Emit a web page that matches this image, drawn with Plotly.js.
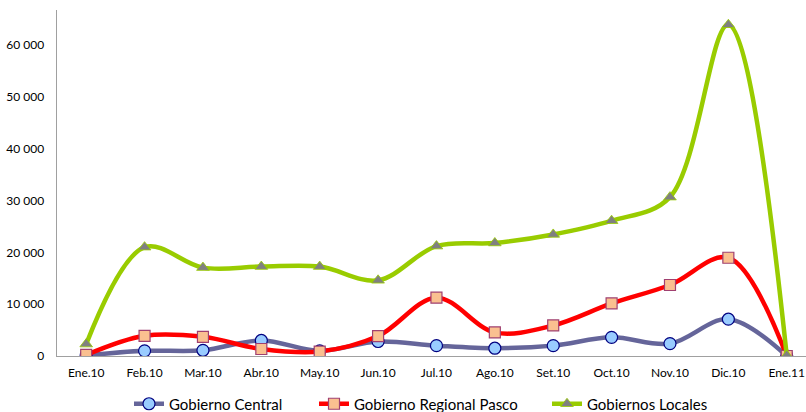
<!DOCTYPE html>
<html>
<head>
<meta charset="utf-8">
<script src="https://cdn.plot.ly/plotly-3.0.1.min.js"></script>
<style>html,body{margin:0;padding:0;background:#fff;}#chart{width:806px;height:412px;}</style>
</head>
<body>
<div id="chart"></div>
<script>
const months = ["Ene.10","Feb.10","Mar.10","Abr.10","May.10","Jun.10","Jul.10","Ago.10","Set.10","Oct.10","Nov.10","Dic.10","Ene.11"];
const gobiernoCentral = [100, 1000, 1100, 3000, 1000, 2800, 2000, 1500, 2000, 3600, 2400, 7100, 0];
const gobiernoRegionalPasco = [200, 3900, 3700, 1350, 850, 3850, 11250, 4550, 5900, 10150, 13700, 18950, 0];
const gobiernosLocales = [2300, 21000, 17050, 17250, 17250, 14600, 21200, 21800, 23450, 26100, 30650, 63900, 100];

const FONT = "Lato, 'Open Sans', sans-serif";

const traces = [
  {
    x: months, y: gobiernoCentral, name: "Gobierno Central", type: "scatter", mode: "lines+markers", legend: "legend",
    line: {color: "#65659a", width: 4.5, shape: "spline", smoothing: 1},
    marker: {symbol: "circle", size: 12, color: "#99ccff", line: {color: "#000080", width: 1.2}}
  },
  {
    x: months, y: gobiernoRegionalPasco, name: "Gobierno Regional Pasco", type: "scatter", mode: "lines+markers", legend: "legend2",
    line: {color: "#ff0000", width: 4.5, shape: "spline", smoothing: 1},
    marker: {symbol: "square", size: 11, color: "#fac090", line: {color: "#a04070", width: 1.2}}
  },
  {
    x: months, y: gobiernosLocales, name: "Gobiernos Locales", type: "scatter", mode: "lines+markers", legend: "legend3",
    line: {color: "#99cc00", width: 4.5, shape: "spline", smoothing: 1},
    marker: {symbol: "triangle-up", size: 11, color: "#808080", line: {color: "#99cc00", width: 0.8}}
  }
];

function leg(px) {
  return {
    orientation: "h", xref: "container", yref: "container",
    x: px / 806, xanchor: "left", y: 404 / 412, yanchor: "middle",
    font: {family: FONT, size: 15, color: "#000000"}, itemwidth: 30, bgcolor: "rgba(0,0,0,0)"
  };
}

const layout = {
  width: 806, height: 412,
  margin: {l: 57, r: 0, t: 10, b: 56},
  paper_bgcolor: "#ffffff", plot_bgcolor: "#ffffff",
  separators: ", ",
  font: {family: FONT, size: 12, color: "#000000"},
  showlegend: true,
  legend: leg(129),
  legend2: leg(314),
  legend3: leg(547),
  xaxis: {
    type: "category", range: [-0.5, 12.33],
    showgrid: false, zeroline: false, showline: true, linecolor: "#a0a0a0", linewidth: 1,
    ticks: "", ticklabelstandoff: 6, tickfont: {family: FONT, size: 12, color: "#000000"}, fixedrange: true
  },
  yaxis: {
    range: [0, 66750], tickvals: [0, 10000, 20000, 30000, 40000, 50000, 60000],
    tickformat: ",d", showgrid: false, zeroline: false, showline: true, linecolor: "#a0a0a0", linewidth: 1.5,
    ticks: "", ticklabelstandoff: 9, tickfont: {family: FONT, size: 12, color: "#000000"}, fixedrange: true
  }
};

// container y measured from bottom: convert desired pixel (from top) accordingly
layout.legend.y = layout.legend2.y = layout.legend3.y = (412 - 404) / 412;

Plotly.newPlot("chart", traces, layout, {displayModeBar: false, staticPlot: true});
</script>
</body>
</html>
